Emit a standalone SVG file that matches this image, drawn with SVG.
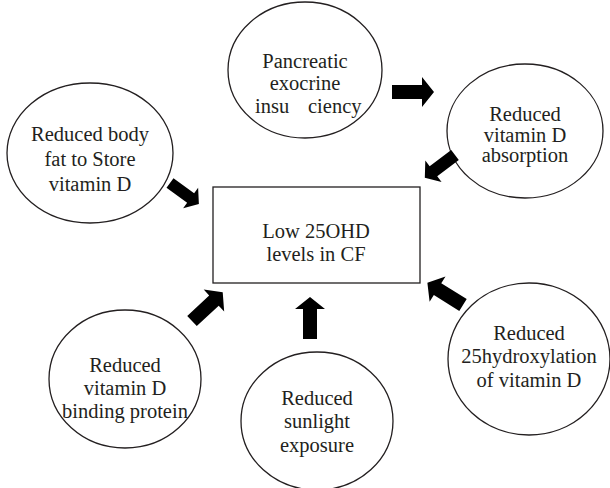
<svg xmlns="http://www.w3.org/2000/svg" xmlns:xlink="http://www.w3.org/1999/xlink" width="610" height="488" viewBox="0 0 610 488">
<style>
.n{fill:#fff;stroke:#231f20;stroke-width:1.3}
.t{font-family:"Liberation Serif",serif;font-size:20.5px;fill:#231f20;text-anchor:middle}
.a{fill:#000}
</style>
<defs>
<path id="arr" d="M0,-7 L30,-7 L30,-15 L42,0 L30,15 L30,7 L0,7 Z"/>
</defs>
<rect width="610" height="488" fill="#fff"/>
<g id="pancreatic">
<ellipse class="n" cx="305" cy="70" rx="77" ry="68"/>
<text class="t" x="305" y="68">Pancreatic</text>
<text class="t" x="305" y="90">exocrine</text>
<text class="t" y="113"><tspan x="255" text-anchor="start">insu</tspan><tspan x="308" text-anchor="start">ciency</tspan></text>
</g>
<g id="absorption">
<ellipse class="n" cx="525" cy="131" rx="78" ry="67"/>
<text class="t" x="525" y="121">Reduced</text>
<text class="t" x="525" y="142">vitamin D</text>
<text class="t" x="525" y="162">absorption</text>
</g>
<g id="bodyfat">
<ellipse class="n" cx="90" cy="153" rx="83" ry="70"/>
<text class="t" x="90" y="141">Reduced body</text>
<text class="t" x="90" y="166">fat to Store</text>
<text class="t" x="90" y="191">vitamin D</text>
</g>
<g id="low25ohd">
<rect class="n" x="213" y="187" width="207" height="96"/>
<text class="t" x="316" y="238">Low 25OHD</text>
<text class="t" x="316" y="261">levels in CF</text>
</g>
<g id="binding">
<ellipse class="n" cx="125" cy="379" rx="76" ry="69"/>
<text class="t" x="125" y="372">Reduced</text>
<text class="t" x="125" y="395">vitamin D</text>
<text class="t" x="125" y="418">binding protein</text>
</g>
<g id="sunlight">
<ellipse class="n" cx="317" cy="421" rx="76" ry="69"/>
<text class="t" x="317" y="405">Reduced</text>
<text class="t" x="317" y="428">sunlight</text>
<text class="t" x="317" y="452">exposure</text>
</g>
<g id="hydroxylation">
<ellipse class="n" cx="529" cy="359" rx="81" ry="76"/>
<text class="t" x="529" y="340">Reduced</text>
<text class="t" x="529" y="363">25hydroxylation</text>
<text class="t" x="529" y="387">of vitamin D</text>
</g>
<g id="connectors" class="a">
<use xlink:href="#arr" transform="translate(392,92) rotate(0)"/>
<use xlink:href="#arr" transform="translate(455,155) rotate(143) scale(0.9)"/>
<use xlink:href="#arr" transform="translate(170,183) rotate(36) scale(0.85)"/>
<use xlink:href="#arr" transform="translate(192,321) rotate(-43)"/>
<use xlink:href="#arr" transform="translate(310,339) rotate(-90)"/>
<use xlink:href="#arr" transform="translate(463,305) rotate(-148)"/>
</g>
</svg>
